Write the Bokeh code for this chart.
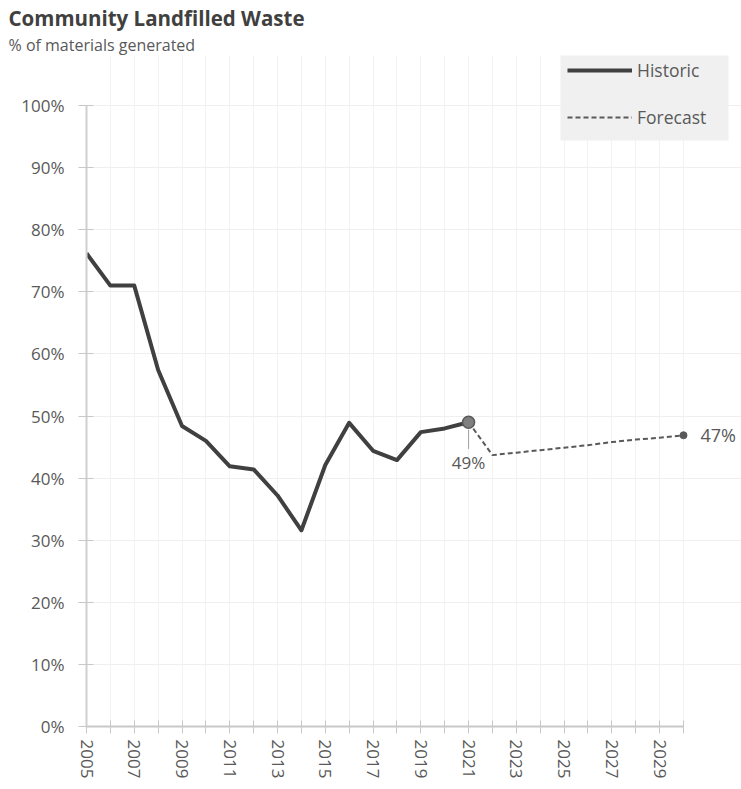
from bokeh.plotting import figure
from bokeh.models import (Range1d, FixedTicker, Label, Legend, LegendItem, Title,
                          CustomJSTickFormatter, BoxAnnotation)
from bokeh.embed import file_html
from bokeh.resources import INLINE

hist_years = [2005, 2006, 2007, 2008, 2009, 2010, 2011, 2012, 2013, 2014, 2015, 2016, 2017, 2018, 2019, 2020, 2021]
hist_vals = [76.2, 71.0, 71.0, 57.4, 48.4, 46.0, 41.9, 41.4, 37.2, 31.6, 42.1, 48.9, 44.4, 42.9, 47.4, 48.0, 49.0]
fc_years = [2021, 2022, 2023, 2024, 2025, 2026, 2027, 2028, 2029, 2030]
fc_vals = [49.0, 43.7, 44.1, 44.5, 44.9, 45.3, 45.8, 46.2, 46.5, 46.9]
label_ticks = [2005, 2007, 2009, 2011, 2013, 2015, 2017, 2019, 2021, 2023, 2025, 2027, 2029]
minor_ticks = [2006, 2008, 2010, 2012, 2014, 2016, 2018, 2020, 2022, 2024, 2026, 2028, 2030]
y_ticks = [0, 10, 20, 30, 40, 50, 60, 70, 80, 90, 100]

FONT = "Open Sans"
GREY = "#595959"

TOP = 55          # frame top (px)
BOTTOM = 726      # frame bottom (0%)
Y100 = 105        # pixel of 100%
X2005, X2030 = 86, 683
ppu_y = (BOTTOM - Y100) / 100.0
ppu_x = (X2030 - X2005) / 25.0
y_end = 100 + (Y100 - TOP) / ppu_y
x_end = 2030 + (741 - X2030) / ppu_x

def px_to_x(px):
    return 2005 + (px - X2005) / ppu_x

def px_to_y(py):
    return (BOTTOM - py) / ppu_y

p = figure(width=741, height=789, output_backend="svg", toolbar_location=None,
           x_range=Range1d(2005, x_end), y_range=Range1d(0, y_end),
           min_border_left=X2005, min_border_right=0, min_border_top=TOP,
           min_border_bottom=789 - BOTTOM)
p.outline_line_color = None
p.background_fill_color = "white"

# titles
p.add_layout(Title(text="% of materials generated", align="left", offset=-78, standoff=0,
                   text_font=FONT, text_font_size="16px", text_font_style="normal",
                   text_color=GREY), "above")
p.add_layout(Title(text="Community Landfilled Waste", align="left", offset=-78, standoff=0,
                   text_font=FONT, text_font_size="20.5px", text_font_style="bold",
                   text_color="#404040"), "above")

# axes
p.yaxis.ticker = FixedTicker(ticks=y_ticks)
p.yaxis.bounds = (0, 100)
p.yaxis.formatter = CustomJSTickFormatter(code="return tick + '%';")
p.yaxis.axis_line_color = "#d0d0d0"
p.yaxis.axis_line_width = 2
p.yaxis.major_tick_line_color = "#c8c8c8"
p.yaxis.major_tick_in = 7
p.yaxis.major_tick_out = 8
p.yaxis.minor_tick_line_color = None
p.yaxis.major_label_standoff = 14
p.yaxis.major_label_text_font = FONT
p.yaxis.major_label_text_font_size = "17px"
p.yaxis.major_label_text_color = GREY

p.xaxis.ticker = FixedTicker(ticks=label_ticks, minor_ticks=minor_ticks)
p.xaxis.bounds = (2005, 2030)
p.xaxis.axis_line_color = "#c8c8c8"
p.xaxis.axis_line_width = 2
p.xaxis.major_tick_line_color = "#c8c8c8"
p.xaxis.minor_tick_line_color = "#c8c8c8"
p.xaxis.major_tick_in = 6
p.xaxis.major_tick_out = 7
p.xaxis.minor_tick_in = 6
p.xaxis.minor_tick_out = 7
p.xaxis.major_label_orientation = "vertical"
p.xaxis.major_label_standoff = 6
p.xaxis.major_label_text_font = FONT
p.xaxis.major_label_text_font_size = "17px"
p.xaxis.major_label_text_color = GREY

p.xgrid.grid_line_color = "#f2f2f2"
p.xgrid.minor_grid_line_color = "#f2f2f2"
p.ygrid.grid_line_color = "#efefef"

# legend background panel
p.add_layout(BoxAnnotation(left=px_to_x(560), right=px_to_x(728), top=px_to_y(40), bottom=px_to_y(140),
                           fill_color="#f0f0f0", fill_alpha=1, line_color=None, level="underlay"))

# lines
hist = p.line(hist_years, hist_vals, line_color="#404040", line_width=4, line_join="round")
fc = p.line(fc_years, fc_vals, line_color=GREY, line_width=2, line_dash="5 3")

# markers
p.scatter([hist_years[-1]], [hist_vals[-1]], size=12, fill_color="#7f7f7f", line_color="#595959", line_width=1.5)
p.scatter([fc_years[-1]], [fc_vals[-1]], size=7, fill_color=GREY, line_color=GREY)

# leader line for 49%
p.segment(x0=[hist_years[-1]], y0=[hist_vals[-1] - 1.2], x1=[hist_years[-1]], y1=[hist_vals[-1] - 4.3],
          line_color="#a0a0a0", line_width=1)

p.add_layout(Label(x=hist_years[-1], y=hist_vals[-1] - 4.7, text="49%", text_align="center",
                   text_baseline="top", text_font=FONT, text_font_size="17px", text_color=GREY))
p.add_layout(Label(x=fc_years[-1], y=fc_vals[-1], x_offset=17, text="47%", text_align="left",
                   text_baseline="middle", text_font=FONT, text_font_size="18px", text_color=GREY))

legend = Legend(items=[LegendItem(label="Historic", renderers=[hist]),
                       LegendItem(label="Forecast", renderers=[fc])],
                location=(481, 586), margin=0, padding=0, spacing=1,
                glyph_width=65, glyph_height=46, label_height=46, label_standoff=5,
                background_fill_alpha=0, border_line_color=None,
                label_text_font=FONT, label_text_font_size="17.5px", label_text_color=GREY)
p.add_layout(legend, "center")

open("out.html", "w").write(file_html(p, INLINE))
